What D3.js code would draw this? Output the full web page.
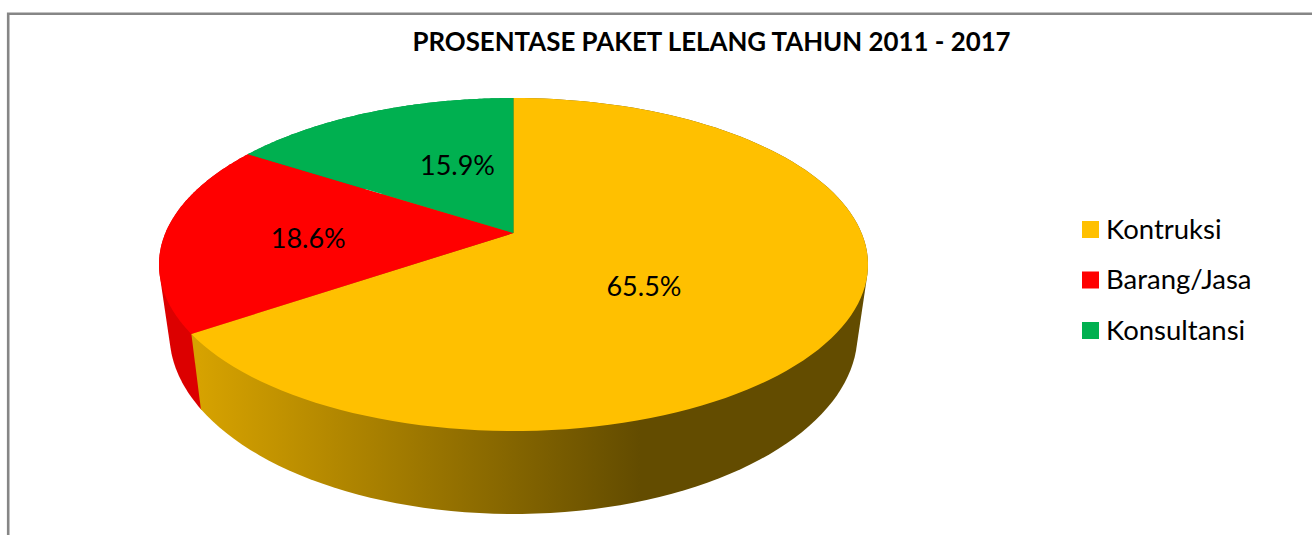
<!DOCTYPE html>
<html>
<head>
<meta charset="utf-8">
<script src="https://cdn.jsdelivr.net/npm/d3@7/dist/d3.min.js"></script>
<style>
html,body{margin:0;padding:0;background:#fff;overflow:hidden}
text{font-family:Lato,"Noto Sans",sans-serif;fill:#000}
</style>
</head>
<body>
<svg id="chart" width="1312" height="535"></svg>
<script>
const titleText = "PROSENTASE PAKET LELANG TAHUN 2011 - 2017";
const categories = ["Kontruksi", "Barang/Jasa", "Konsultansi"];
const values = [65.5, 18.6, 15.9];
const topColors = ["#FFC000", "#FF0000", "#00B050"];
const sideColors = ["url(#wallGold)", "#DC0000", "#009844"];
const labelNudges = [[-30.5, 15], [-31, 5], [21, -2]];

const svg = d3.select("#chart");
const k = 0.189, f = Math.sqrt(1 - k * k);
const topDisc = {cx: 513.5, cy: 264.5, rx: 354.5, ry: 166.5};
const baseDisc = {cx: 513.5, cy: 334, rx: 344, ry: 180};

// perspective projection of a point of the flat unit disc on a drawn ellipse
function project(d, angle, r) {
  const s = r * Math.sin(angle), c = r * Math.cos(angle), w = 1 + k * c;
  return [d.cx + d.rx * f * s / w, d.cy + d.ry * (-c - k) / w];
}
const arcPoints = (d, a0, a1) => d3.range(0, 121).map(i => project(d, a0 + (a1 - a0) * i / 120, 1));

const pie = d3.pie().sort(null).value(v => v);
const slices = pie(values);
const line = d3.line();

// wall shading
const grad = svg.append("defs").append("linearGradient")
  .attr("id", "wallGold").attr("gradientUnits", "userSpaceOnUse")
  .attr("x1", 200).attr("x2", 640).attr("y1", 0).attr("y2", 0);
grad.append("stop").attr("offset", 0).attr("stop-color", "#D6A200");
grad.append("stop").attr("offset", 1).attr("stop-color", "#634C00");

// chart frame (open at the right and bottom, cropped)
svg.append("path").attr("d", "M8.2,535V13.7H1312").attr("fill", "none")
  .attr("stroke", "#868686").attr("stroke-width", 2.6);

svg.append("text").attr("x", 711.5).attr("y", 50.5).attr("text-anchor", "middle")
  .attr("font-size", 25.85).attr("font-weight", 700).text(titleText);

// walls: later slices first, so the big one closes over the shared edge
svg.append("g").selectAll("path").data(slices.slice().reverse()).join("path")
  .attr("fill", d => sideColors[d.index])
  .attr("d", d => {
    const pts = arcPoints(topDisc, d.startAngle, d.endAngle)
      .concat(arcPoints(baseDisc, d.startAngle, d.endAngle));
    return line(d3.polygonHull(pts)) + "Z";
  });

// top face
svg.append("g").selectAll("path").data(slices).join("path")
  .attr("fill", d => topColors[d.index])
  .attr("d", d => line([project(topDisc, 0, 0)].concat(arcPoints(topDisc, d.startAngle, d.endAngle))) + "Z");

// value labels
svg.append("g").selectAll("text").data(slices).join("text")
  .attr("text-anchor", "middle").attr("font-size", 27)
  .attr("x", d => project(topDisc, (d.startAngle + d.endAngle) / 2, 0.5)[0] + labelNudges[d.index][0])
  .attr("y", d => project(topDisc, (d.startAngle + d.endAngle) / 2, 0.5)[1] + labelNudges[d.index][1] + 9)
  .text(d => d.value.toFixed(1) + "%");

// legend
const legendY = d3.scalePoint().domain(categories).range([229.5, 330.5]);
const legend = svg.append("g").selectAll("g").data(categories).join("g")
  .attr("transform", c => `translate(1082,${legendY(c)})`);
legend.append("rect").attr("x", 0).attr("y", -8.5).attr("width", 17).attr("height", 17)
  .attr("fill", (c, i) => topColors[i]);
legend.append("text").attr("x", 24).attr("y", 9).attr("font-size", 27.5).text(c => c);
</script>
</body>
</html>
